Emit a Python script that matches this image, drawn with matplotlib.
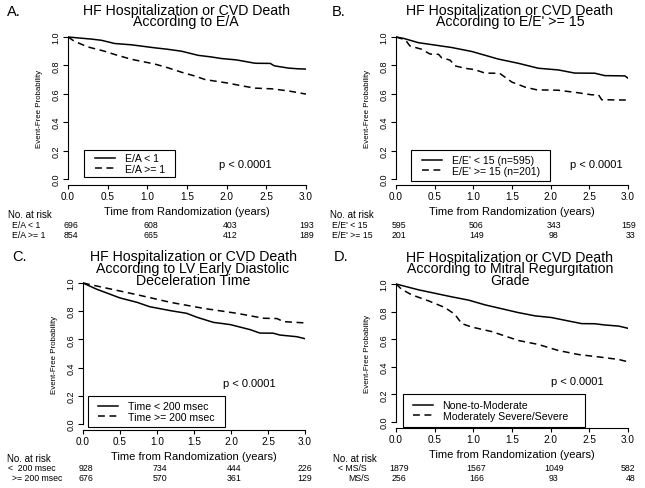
import matplotlib
matplotlib.use('Agg')
import matplotlib.pyplot as plt
from matplotlib.patches import Rectangle
from matplotlib.lines import Line2D
import matplotlib.transforms as mtransforms

plt.rcParams['font.family'] = ['Liberation Sans', 'DejaVu Sans']

W, H = 645, 489

# ---- data ----
a_lo_t = [0, 0.2, 0.3, 0.42, 0.59, 0.8, 1.09, 1.25, 1.43, 1.64, 1.8, 1.94, 2.12, 2.36, 2.55, 2.6, 2.78, 2.9, 3.0]
a_lo_s = [1.0, 0.99, 0.985, 0.977, 0.954, 0.945, 0.924, 0.914, 0.9, 0.871, 0.86, 0.848, 0.839, 0.815, 0.814, 0.797, 0.781, 0.776, 0.774]
a_hi_t = [0, 0.08, 0.25, 0.46, 0.6, 0.8, 1.09, 1.25, 1.43, 1.6, 1.73, 2.02, 2.2, 2.36, 2.57, 2.78, 3.0]
a_hi_s = [1.0, 0.97, 0.93, 0.9, 0.875, 0.843, 0.81, 0.785, 0.752, 0.725, 0.7, 0.675, 0.655, 0.64, 0.635, 0.62, 0.598]

b_lo_t = [0, 0.1, 0.29, 0.72, 0.98, 1.32, 1.58, 1.84, 2.1, 2.31, 2.57, 2.7, 2.96, 3.0]
b_lo_s = [1.0, 0.99, 0.96, 0.926, 0.898, 0.845, 0.815, 0.78, 0.768, 0.746, 0.745, 0.728, 0.726, 0.71]
b_hi_t = [0, 0.12, 0.18, 0.33, 0.44, 0.55, 0.59, 0.7, 0.76, 0.89, 1.02, 1.15, 1.34, 1.41, 1.5, 1.67, 1.82, 2.1, 2.36, 2.53, 2.62, 2.66, 3.0]
b_hi_s = [1.0, 0.98, 0.937, 0.914, 0.88, 0.878, 0.854, 0.837, 0.797, 0.78, 0.77, 0.746, 0.744, 0.717, 0.682, 0.647, 0.628, 0.625, 0.607, 0.593, 0.592, 0.558, 0.556]

c_lo_t = [0, 0.18, 0.5, 0.73, 0.9, 1.18, 1.4, 1.54, 1.76, 1.99, 2.26, 2.39, 2.57, 2.66, 2.89, 3.0]
c_lo_s = [1.0, 0.957, 0.894, 0.863, 0.832, 0.804, 0.785, 0.757, 0.721, 0.705, 0.669, 0.645, 0.644, 0.631, 0.619, 0.605]
c_hi_t = [0, 0.27, 0.73, 1.18, 1.63, 2.08, 2.44, 2.62, 2.71, 3.0]
c_hi_s = [1.0, 0.969, 0.917, 0.863, 0.82, 0.785, 0.75, 0.748, 0.726, 0.717]

d_lo_t = [0, 0.29, 0.72, 0.94, 1.15, 1.58, 1.8, 2.01, 2.23, 2.4, 2.57, 2.7, 2.88, 3.0]
d_lo_s = [1.0, 0.958, 0.907, 0.883, 0.849, 0.793, 0.769, 0.757, 0.732, 0.713, 0.712, 0.703, 0.695, 0.679]
d_hi_t = [0, 0.07, 0.2, 0.42, 0.63, 0.76, 0.85, 0.98, 1.24, 1.58, 1.84, 2.1, 2.36, 2.66, 2.88, 3.0]
d_hi_s = [1.0, 0.963, 0.922, 0.878, 0.83, 0.781, 0.713, 0.688, 0.655, 0.591, 0.562, 0.518, 0.489, 0.469, 0.453, 0.436]

risk_times = [0, 1, 2, 3]
a_risk = [[696, 608, 403, 193], [854, 665, 412, 189]]
b_risk = [[595, 506, 343, 159], [201, 149, 98, 33]]
c_risk = [[928, 734, 444, 226], [676, 570, 361, 129]]
d_risk = [[1879, 1567, 1049, 582], [256, 166, 93, 48]]

panels = [
    dict(letter='A.', title=['HF Hospitalization or CVD Death', 'According to E/A'],
         curves=[(a_lo_t, a_lo_s), (a_hi_t, a_hi_s)],
         labels=['E/A < 1', 'E/A >= 1'], rows=['E/A < 1', 'E/A >= 1'], risk=a_risk),
    dict(letter='B.', title=['HF Hospitalization or CVD Death', "According to E/E' >= 15"],
         curves=[(b_lo_t, b_lo_s), (b_hi_t, b_hi_s)],
         labels=["E/E' < 15 (n=595)", "E/E' >= 15 (n=201)"], rows=["E/E' < 15", "E/E' >= 15"], risk=b_risk),
    dict(letter='C.', title=['HF Hospitalization or CVD Death', 'According to LV Early Diastolic', 'Deceleration Time'],
         curves=[(c_lo_t, c_lo_s), (c_hi_t, c_hi_s)],
         labels=['Time < 200 msec', 'Time >= 200 msec'], rows=['<  200 msec', '>= 200 msec'], risk=c_risk),
    dict(letter='D.', title=['HF Hospitalization or CVD Death', 'According to Mitral Regurgitation', 'Grade'],
         curves=[(d_lo_t, d_lo_s), (d_hi_t, d_hi_s)],
         labels=['None-to-Moderate', 'Moderately Severe/Severe'], rows=['< MS/S', 'MS/S'], risk=d_risk),
]

# layout in pixels: (x at t=0, x at t=3, y at S=1, y at S=0)
frames = [(68, 306, 38, 180), (396, 628, 38, 180), (83, 305, 284, 425), (396, 628, 285, 423)]
letter_xy = [(7, 12), (332, 12), (12, 257), (334, 257)]
title_xy = [(186, 16.5), (510, 16.5), (193, 269), (510, 269.5)]
legend_box = [(84, 151, 175, 178), (411, 151, 550, 182), (88, 397, 225, 428), (403, 395, 585, 428)]
legend_anchor = [(95, 164.5), (422, 166.5), (98, 412.5), (413, 411.5)]
pval_xy = [(245, 165), (596, 165), (249, 384), (577, 382)]
risk_y = [(215.5, 225.5, 235.5), (215.5, 225.5, 235.5), (459, 469, 479), (459, 469, 479)]
row_x = [(8, 12, 12), (330, 332, 332), (7, 8, 12), (333, 338, 348)]


def fx(x):
    return x / W


def fy(y):
    return 1 - y / H


fig = plt.figure(figsize=(W / 100, H / 100), dpi=100)
styles = ['-', (0, (4.5, 3))]

for i, p in enumerate(panels):
    x0, x3, y1, y0 = frames[i]
    unit = y0 - y1
    top = y1 - 0.04 * unit
    bot = y0 + 0.04 * unit
    ax = fig.add_axes([fx(x0), fy(bot), (x3 - x0) / W, (bot - top) / H])
    for (t, s), ls in zip(p['curves'], styles):
        ax.plot(t, s, color='black', lw=1.1, linestyle=ls)
    ax.set_xlim(0, 3)
    ax.set_ylim(-0.04, 1.04)
    ax.set_xticks([0, 0.5, 1, 1.5, 2, 2.5, 3])
    ax.set_xticklabels(['0.0', '0.5', '1.0', '1.5', '2.0', '2.5', '3.0'])
    ax.set_yticks([0, 0.2, 0.4, 0.6, 0.8, 1.0])
    ax.set_yticklabels(['0.0', '0.2', '0.4', '0.6', '0.8', '1.0'], rotation=90, va='center')
    for sp in ['top', 'right']:
        ax.spines[sp].set_visible(False)
    ax.spines['left'].set_bounds(0, 1)
    ax.spines['bottom'].set_bounds(0, 3)
    ax.spines['left'].set_linewidth(0.8)
    ax.spines['bottom'].set_linewidth(0.8)
    ax.tick_params(axis='x', length=3, width=0.8, pad=1.5, labelsize=7.2)
    ax.tick_params(axis='y', length=3.5, width=0.8, pad=2, labelsize=6.5)
    ax.set_xlabel('Time from Randomization (years)', fontsize=8, labelpad=3.5)
    ax.set_ylabel('Event-Free Probability', fontsize=5.7, labelpad=6)
    ax.patch.set_visible(False)

    # panel letter and title
    lx, ly = letter_xy[i]
    fig.text(fx(lx), fy(ly), p['letter'], fontsize=10.5, ha='left', va='center')
    tx, ty = title_xy[i]
    fig.text(fx(tx), fy(ty), '\n'.join(p['title']), fontsize=10.2, ha='center', va='center',
             multialignment='center', linespacing=0.78)

    # legend with its own box
    bx0, by0, bx1, by1 = legend_box[i]
    fig.add_artist(Rectangle((fx(bx0), fy(by1)), (bx1 - bx0) / W, (by1 - by0) / H,
                             transform=fig.transFigure, fill=False, lw=0.8, ec='black'))
    handles = [Line2D([], [], color='black', lw=1.1, linestyle=ls) for ls in styles]
    lax, lay = legend_anchor[i]
    fig.legend(handles, p['labels'], loc='center left', bbox_to_anchor=(fx(lax), fy(lay)),
               bbox_transform=fig.transFigure, frameon=False, fontsize=7.6, handlelength=1.9,
               handletextpad=0.9, labelspacing=0.05, borderpad=0, borderaxespad=0)

    px, py = pval_xy[i]
    fig.text(fx(px), fy(py), 'p < 0.0001', fontsize=8, ha='center', va='center')

    # number at risk table
    tr = mtransforms.blended_transform_factory(ax.transData, fig.transFigure)
    ry = risk_y[i]
    rx = row_x[i]
    fig.text(fx(rx[0]), fy(ry[0]), 'No. at risk', fontsize=7, ha='left', va='center')
    for r in range(2):
        fig.text(fx(rx[r + 1]), fy(ry[r + 1]), p['rows'][r], fontsize=6.3, ha='left', va='center')
        for k, t in enumerate(risk_times):
            if k == 3:
                ax.text(t + 0.1, fy(ry[r + 1]), str(p['risk'][r][k]), transform=tr,
                        fontsize=6.3, ha='right', va='center', clip_on=False)
            else:
                ax.text(t + 0.04, fy(ry[r + 1]), str(p['risk'][r][k]), transform=tr,
                        fontsize=6.3, ha='center', va='center', clip_on=False)

fig.savefig('out.png', dpi=100)
